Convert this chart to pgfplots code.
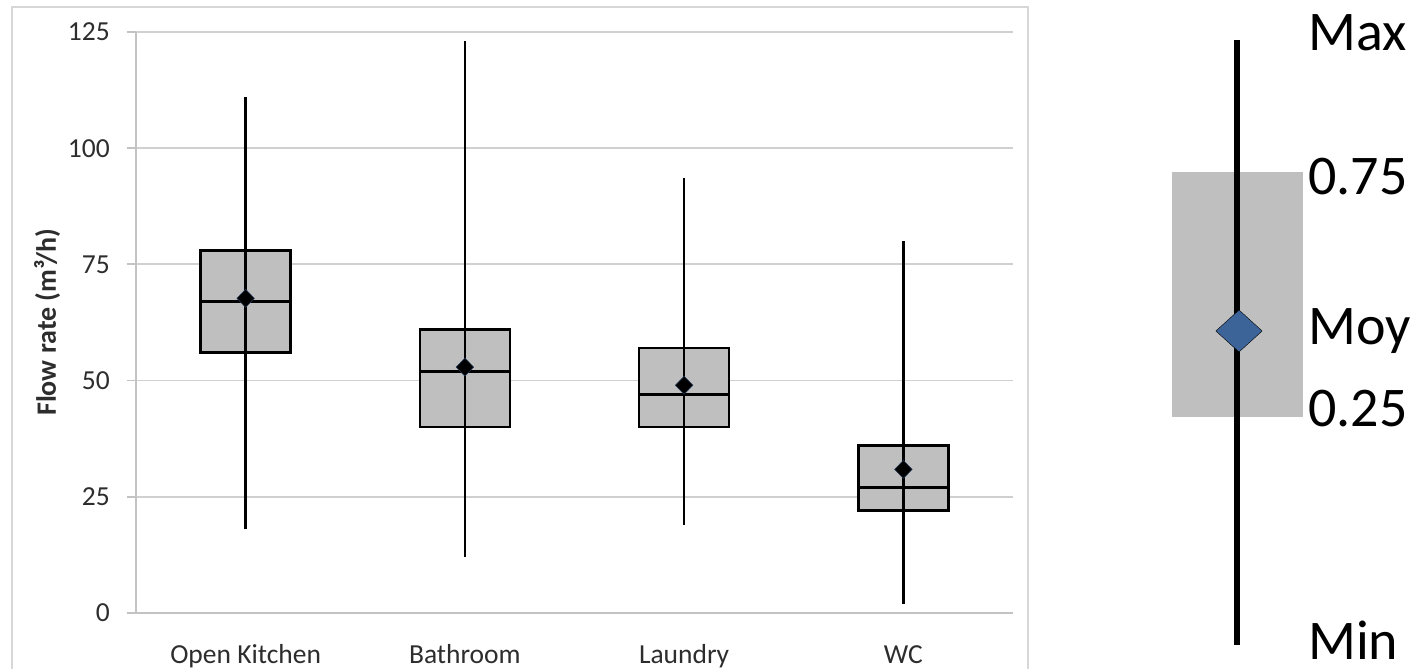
\documentclass[border=0pt]{standalone}
\usepackage{pgfplots}
\pgfplotsset{compat=1.18}
\usepackage{fontspec}
\setmainfont{Carlito}

\definecolor{gridgray}{RGB}{208,208,208}
\definecolor{axisgray}{RGB}{195,195,195}
\definecolor{framegray}{RGB}{215,215,215}
\definecolor{boxfill}{RGB}{191,191,191}
\definecolor{meanblue}{RGB}{60,100,152}
\definecolor{labelgray}{RGB}{45,45,45}

% Mean flow rate per room
\pgfplotstableread{
pos  mean
1    67.7
2    52.9
3    49.0
4    30.9
}\meandata

\pgfplotsset{roombox/.style={fill=boxfill, draw=black, line width=2.6pt}}

\begin{document}
\begin{tikzpicture}
\useasboundingbox (0pt,0pt) rectangle (1422pt,669pt);
\begin{scope}
\clip (0pt,0pt) rectangle (1422pt,669pt);
% outer chart frame
\draw[framegray, line width=1.5pt] (12pt,-20pt) -- (12pt,662pt) -- (1028pt,662pt) -- (1028pt,-20pt);
\end{scope}

\begin{axis}[
  at={(136pt,56pt)}, anchor=south west,
  scale only axis, width=877pt, height=581pt,
  xmin=0.5, xmax=4.5, ymin=0, ymax=125,
  axis lines*=left,
  axis line style={axisgray, line width=1.8pt},
  ytick={0,25,...,125},
  ymajorgrids, grid style={gridgray, line width=1.8pt},
  ytick style={axisgray, line width=1.8pt},
  major tick length=9pt, tick align=outside,
  xtick={1,2,3,4},
  xticklabels={Open Kitchen, Bathroom, Laundry, WC},
  x tick style={draw=none},
  extra x ticks={0.5,1.5,2.5,3.5,4.5},
  extra x tick labels={},
  extra x tick style={grid=none, tick style={draw=axisgray, line width=1.5pt}},
  tick label style={font=\fontsize{27.5}{33}\selectfont, text=labelgray},
  /pgf/number format/assume math mode=true,
  xticklabel style={anchor=base, yshift=-42pt, inner sep=0pt},
  yticklabel style={anchor=east, inner sep=0pt, xshift=-17pt},
  ylabel={Flow rate (m³/h)},
  ylabel style={at={(axis description cs:-0.1015,0.5)}, anchor=center,
                font=\bfseries\fontsize{28}{33}\selectfont, text=labelgray},
  clip=false,
]
% boxes: lower to upper quartile
\addplot[roombox] coordinates {(0.795,56) (1.205,56) (1.205,78) (0.795,78)} -- cycle;
\addplot[roombox] coordinates {(1.795,40) (2.205,40) (2.205,61) (1.795,61)} -- cycle;
\addplot[roombox] coordinates {(2.795,40) (3.205,40) (3.205,57) (2.795,57)} -- cycle;
\addplot[roombox] coordinates {(3.795,22) (4.205,22) (4.205,36) (3.795,36)} -- cycle;
% whiskers from min to max, drawn through the boxes
\addplot[black, line width=2.3pt] coordinates {(1,18) (1,111)};
\addplot[black, line width=2.3pt] coordinates {(2,12) (2,123)};
\addplot[black, line width=2.3pt] coordinates {(3,19) (3,93.5)};
\addplot[black, line width=2.3pt] coordinates {(4,2) (4,80)};
% medians
\addplot[black, line width=3pt] coordinates {(0.795,67) (1.205,67)};
\addplot[black, line width=3pt] coordinates {(1.795,52) (2.205,52)};
\addplot[black, line width=3pt] coordinates {(2.795,47) (3.205,47)};
\addplot[black, line width=3pt] coordinates {(3.795,27) (4.205,27)};
% means
\addplot[only marks, mark=diamond*, mark size=9pt,
  mark options={fill=black, draw=meanblue!60!black, line width=0.5pt, xscale=1.3}]
  table[x=pos, y=mean] {\meandata};
\end{axis}

% key explaining the box symbol
\begin{axis}[
  at={(0pt,0pt)}, anchor=south west,
  scale only axis, width=1422pt, height=669pt,
  xmin=0, xmax=1422, ymin=0, ymax=669,
  hide axis, clip=false,
]
\addplot[fill=boxfill, draw=none] coordinates {(1172,252) (1303,252) (1303,497) (1172,497)} -- cycle;
\addplot[black, line width=5.5pt] coordinates {(1237,24) (1237,629)};
\addplot[only marks, mark=diamond*, mark size=21pt,
  mark options={fill=meanblue, draw=none, xscale=1.47}] coordinates {(1239,338)};
\node[anchor=base west, inner sep=0pt, font=\fontsize{56}{66}\selectfont] at (axis cs:1308,618) {Max};
\node[anchor=base west, inner sep=0pt, font=\fontsize{56}{66}\selectfont] at (axis cs:1308,474) {0.75};
\node[anchor=base west, inner sep=0pt, font=\fontsize{56}{66}\selectfont] at (axis cs:1308,324) {Moy};
\node[anchor=base west, inner sep=0pt, font=\fontsize{56}{66}\selectfont] at (axis cs:1308,242) {0.25};
\node[anchor=base west, inner sep=0pt, font=\fontsize{56}{66}\selectfont] at (axis cs:1308,9) {Min};
\end{axis}
\end{tikzpicture}
\end{document}
